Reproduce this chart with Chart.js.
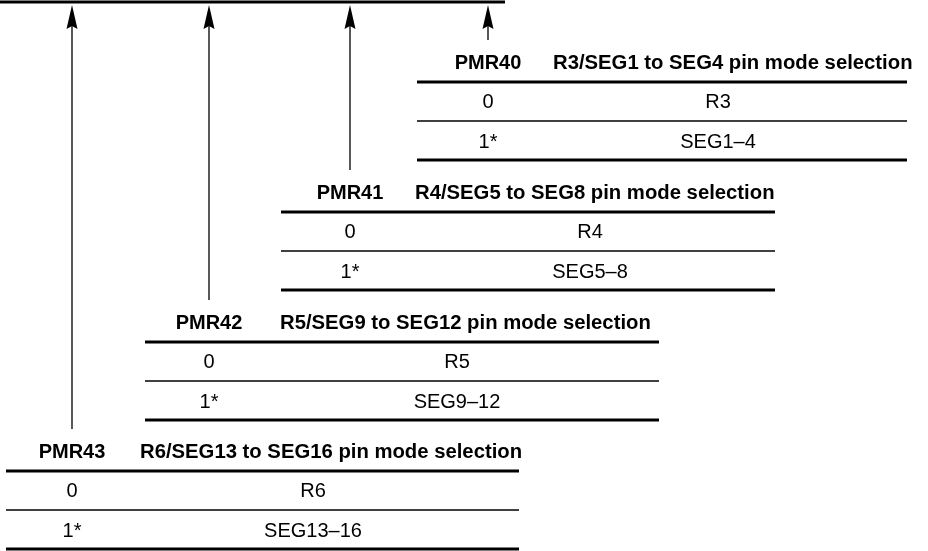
<!DOCTYPE html>
<html>
<head>
<meta charset="utf-8">
<script src="https://cdn.jsdelivr.net/npm/chart.js@4.4.1/dist/chart.umd.min.js"></script>
<style>
  html, body { margin: 0; padding: 0; background: #fff; }
  canvas { display: block; }
</style>
</head>
<body>
<canvas id="myChart" width="928" height="551"></canvas>
<script>
'use strict';

// Table content
let registers = ['PMR40', 'PMR41', 'PMR42', 'PMR43'];
let titles = [
  'R3/SEG1 to SEG4 pin mode selection',
  'R4/SEG5 to SEG8 pin mode selection',
  'R5/SEG9 to SEG12 pin mode selection',
  'R6/SEG13 to SEG16 pin mode selection'
];
let bitValues = ['0', '1*'];
let modeOff = ['R3', 'R4', 'R5', 'R6'];
let modeOn = ['SEG1–4', 'SEG5–8', 'SEG9–12', 'SEG13–16'];

// Layout (pixel space of the 928x551 plot)
let colX = [488, 350, 209, 72];
let modeX = [718, 590, 457, 313];
let ruleY = [82, 212, 342, 471];
let lineLeft = [417, 281, 145, 6];
let lineRight = [907, 775, 659, 519];
let titleLeft = [553, 415, 280, 140];
let busY = 2;
let busEnd = 505;

// arrowhead image for the point style
function makeArrowHead() {
  let c = document.createElement('canvas');
  c.width = 12;
  c.height = 24;
  let g = c.getContext('2d');
  g.fillStyle = '#000';
  g.beginPath();
  g.moveTo(6, 0);
  g.lineTo(11.5, 24);
  g.lineTo(6, 21);
  g.lineTo(0.5, 24);
  g.closePath();
  g.fill();
  return c;
}
let arrowHead = makeArrowHead();

function seg(x1, y1, x2, y2, w) {
  return {
    type: 'line',
    data: [{x: x1, y: y1}, {x: x2, y: y2}],
    borderColor: '#000',
    borderWidth: w,
    pointRadius: 0,
    showLine: true,
    clip: false
  };
}

let datasets = [];
datasets.push(seg(0, busY, busEnd, busY, 3));
for (let i = 0; i < registers.length; i++) {
  let r = ruleY[i];
  datasets.push(seg(lineLeft[i], r, lineRight[i], r, 3));
  datasets.push(seg(lineLeft[i], r + 39, lineRight[i], r + 39, 1.5));
  datasets.push(seg(lineLeft[i], r + 78, lineRight[i], r + 78, 3));
  datasets.push(seg(colX[i], 20, colX[i], r - 42, 1.3));
}
datasets.push({
  type: 'scatter',
  data: colX.map(x => ({x: x, y: 17})),
  pointStyle: arrowHead,
  pointRadius: 6,
  clip: false
});

const tableText = {
  id: 'tableText',
  afterDatasetsDraw(chart) {
    const ctx = chart.ctx;
    const xs = chart.scales.x;
    const ys = chart.scales.y;
    ctx.save();
    ctx.fillStyle = '#000';
    ctx.textBaseline = 'middle';
    for (let i = 0; i < registers.length; i++) {
      let r = ruleY[i];
      ctx.font = 'bold 20px "Liberation Sans", Arial, sans-serif';
      ctx.textAlign = 'center';
      ctx.fillText(registers[i], xs.getPixelForValue(colX[i]), ys.getPixelForValue(r - 19));
      ctx.textAlign = 'left';
      ctx.font = 'bold 20.3px "Liberation Sans", Arial, sans-serif';
      ctx.fillText(titles[i], xs.getPixelForValue(titleLeft[i]), ys.getPixelForValue(r - 19));
      ctx.font = '20px "Liberation Sans", Arial, sans-serif';
      ctx.textAlign = 'center';
      ctx.fillText(bitValues[0], xs.getPixelForValue(colX[i]), ys.getPixelForValue(r + 20));
      ctx.fillText(bitValues[1], xs.getPixelForValue(colX[i]), ys.getPixelForValue(r + 60));
      ctx.fillText(modeOff[i], xs.getPixelForValue(modeX[i]), ys.getPixelForValue(r + 20));
      ctx.fillText(modeOn[i], xs.getPixelForValue(modeX[i]), ys.getPixelForValue(r + 60));
    }
    ctx.restore();
  }
};

const config = {
  type: 'scatter',
  data: { datasets: datasets },
  options: {
    responsive: false,
    animation: false,
    devicePixelRatio: 1,
    layout: { padding: 0, autoPadding: false },
    plugins: {
      legend: { display: false },
      tooltip: { enabled: false }
    },
    scales: {
      x: { type: 'linear', min: 0, max: 928, display: false },
      y: { type: 'linear', min: 0, max: 551, reverse: true, display: false }
    }
  },
  plugins: [tableText]
};

const myChart = new Chart(document.getElementById('myChart'), config);
</script>
</body>
</html>
